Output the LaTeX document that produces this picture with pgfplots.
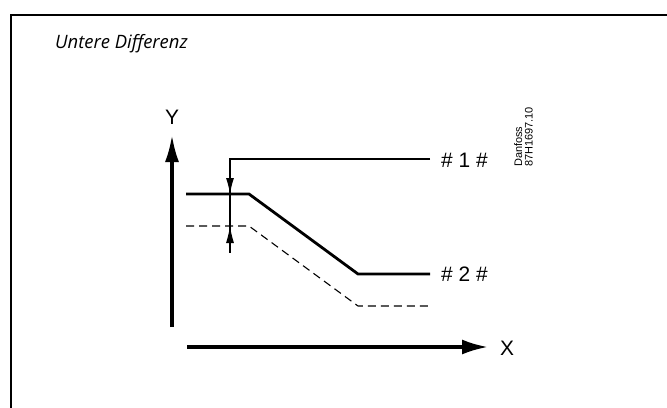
\documentclass[border=0pt]{standalone}
\usepackage{pgfplots}
\pgfplotsset{compat=1.18}
\usetikzlibrary{arrows.meta}
\usepackage{fontspec}
\setmainfont{Liberation Sans}
\newfontfamily\titlefont{Open Sans}
\begin{document}
\begin{tikzpicture}
\begin{axis}[name=ax, width=667bp, height=408bp, scale only axis,
  xmin=0, xmax=667, ymin=0, ymax=408, y dir=reverse,
  axis lines=none, clip=false]
% frame
\addplot[black, line width=2.2bp, line join=miter] coordinates {(11,410)(11,15)(669,15)};
% curves
\addplot[black, line width=2.8bp] coordinates {(186,194)(249,194)(358,274)(430,274)};
\addplot[black, line width=1.1bp, dash pattern=on 8bp off 5bp] coordinates {(186,226)(249,226)(358,306)(430,306)};
% annotation
\addplot[black, line width=1.1bp] coordinates {(430,159)(230,159)(230,253)};
\addplot[black, line width=1.1bp, -{Latex[length=16bp,width=8bp]}] coordinates {(230,172)(230,194)};
\addplot[black, line width=1.1bp, -{Latex[length=17bp,width=8bp]}] coordinates {(230,248)(230,226)};
% axes arrows
\addplot[black, line width=3.2bp, -{Latex[length=27bp,width=14bp]}] coordinates {(172,327)(172,135)};
\addplot[black, line width=3.2bp, -{Latex[length=26bp,width=15bp]}] coordinates {(187,347)(488,347)};
% labels
\node[font=\fontsize{21}{21}\selectfont] at (axis cs:172,117) {Y};
\node[font=\fontsize{21}{21}\selectfont] at (axis cs:507,348) {X};
\node[anchor=west, inner sep=0, font=\fontsize{21}{21}\selectfont] at (axis cs:441,160) {\# 1 \#};
\node[anchor=west, inner sep=0, font=\fontsize{21}{21}\selectfont] at (axis cs:441,274) {\# 2 \#};
\node[rotate=90, anchor=south west, inner sep=0, align=left, font=\fontsize{11}{10.5}\selectfont] at (axis cs:533,167) {Danfoss\\87H1697.10};
\node[anchor=base west, inner sep=0, font=\titlefont\itshape\fontsize{18.5}{18.5}\selectfont] at (axis cs:55,48) {Untere Differenz};
\end{axis}
\pgfresetboundingbox
\path (ax.south west) rectangle (ax.north east);
\end{tikzpicture}
\end{document}
